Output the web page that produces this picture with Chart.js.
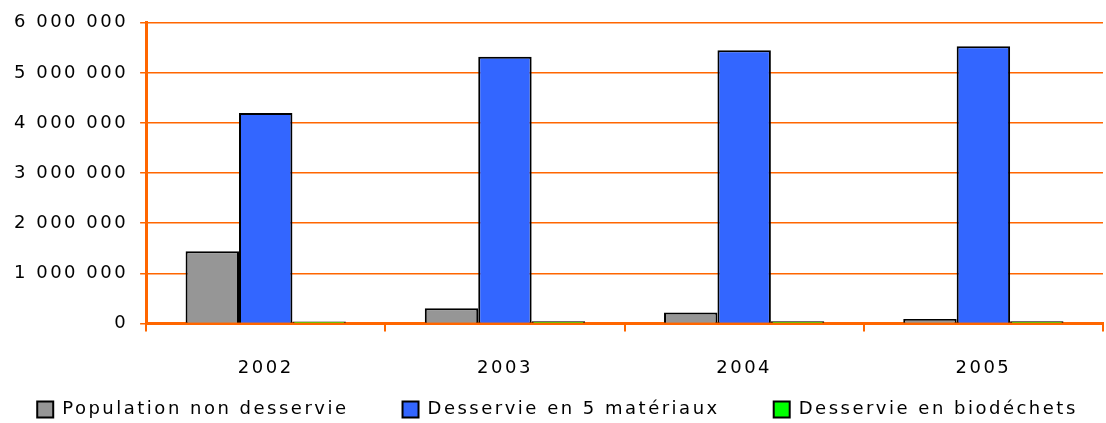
<!DOCTYPE html>
<html>
<head>
<meta charset="utf-8">
<script src="https://cdn.jsdelivr.net/npm/chart.js@4/dist/chart.umd.min.js"></script>
<style>
html,body{margin:0;padding:0;background:#fff;}
#wrap{width:1106px;height:423px;position:relative;}
</style>
</head>
<body>
<div id="wrap"><canvas id="c"></canvas></div>
<script>
const categories = ['2002', '2003', '2004', '2005'];
const seriesNames = ['Population non desservie', 'Desservie en 5 matériaux', 'Desservie en biodéchets'];
const nonDesservie = [1440000, 300000, 220000, 90000];
const cinqMateriaux = [4200000, 5320000, 5450000, 5530000];
const biodechets = [40000, 45000, 45000, 45000];
const yTicks = [0, 1000000, 2000000, 3000000, 4000000, 5000000, 6000000];

const ORANGE = '#FF6600';
const LETTER_SPACING = '2.5px';
const LEGEND_PAD = 54;
const LEGEND_H = 18;
const LEGEND_BOX_TOP = 401;
const LEGEND_SHIFT = 5;

function fmt(v) {
  return String(v).replace(/\B(?=(\d{3})+(?!\d))/g, ' ');
}

const spacingPlugin = {
  id: 'spacing',
  beforeUpdate(chart) { chart.ctx.letterSpacing = LETTER_SPACING; },
  beforeLayout(chart) { chart.ctx.letterSpacing = LETTER_SPACING; },
  beforeDraw(chart) { chart.ctx.letterSpacing = LETTER_SPACING; },
  afterInit(chart) {
    chart.ctx.letterSpacing = LETTER_SPACING;
    const lg = chart.legend;
    if (!lg || lg._patched) return;
    lg._patched = true;
    const origFit = lg.fit;
    lg.fit = function () {
      const mw = this.maxWidth;
      this.maxWidth = mw + 600;
      origFit.call(this);
      this.maxWidth = mw;
      this.width = mw;
      this.height = LEGEND_H;
    };
    const origDraw = lg.draw;
    lg.draw = function () {
      const l = this.left, r = this.right, t = this.top;
      this.left = l - 300 + LEGEND_SHIFT;
      this.right = r + 300 + LEGEND_SHIFT;
      this.top = LEGEND_BOX_TOP - 0.5 - LEGEND_PAD;
      origDraw.apply(this, arguments);
      this.left = l; this.right = r; this.top = t;
    };
  }
};

const FONT = { family: 'DejaVu Sans', size: 18 };

new Chart(document.getElementById('c'), {
  type: 'bar',
  data: {
    labels: categories,
    datasets: [
      { label: seriesNames[0], data: nonDesservie, backgroundColor: '#969696', borderColor: '#000', borderWidth: 2 },
      { label: seriesNames[1], data: cinqMateriaux, backgroundColor: '#3366FF', borderColor: '#000', borderWidth: 2 },
      { label: seriesNames[2], data: biodechets, backgroundColor: '#00FF00', borderColor: '#000', borderWidth: 2 }
    ]
  },
  plugins: [spacingPlugin],
  options: {
    responsive: true,
    maintainAspectRatio: false,
    animation: false,
    events: [],
    layout: { padding: { left: 2, right: 3, top: 9, bottom: 0 } },
    datasets: { bar: { categoryPercentage: 0.67, barPercentage: 1.0 } },
    scales: {
      x: {
        grid: { display: true, drawOnChartArea: false, drawTicks: true, tickLength: 8, color: ORANGE, lineWidth: 2, offset: true },
        border: { display: true, color: ORANGE, width: 3 },
        ticks: { color: '#000', font: FONT, padding: 26, maxRotation: 0, autoSkip: false }
      },
      y: {
        min: 0, max: 6000000,
        afterBuildTicks(scale) { scale.ticks = yTicks.map(v => ({ value: v })); },
        grid: { color: ORANGE, lineWidth: 1.5, tickLength: 6, drawTicks: true },
        border: { display: true, color: ORANGE, width: 3 },
        ticks: { color: '#000', font: FONT, padding: 12, callback: v => fmt(v) }
      }
    },
    plugins: {
      tooltip: { enabled: false },
      legend: {
        position: 'bottom',
        labels: {
          color: '#000', font: FONT, boxWidth: 16, boxHeight: 16, padding: LEGEND_PAD
        }
      }
    }
  }
});
</script>
</body>
</html>
